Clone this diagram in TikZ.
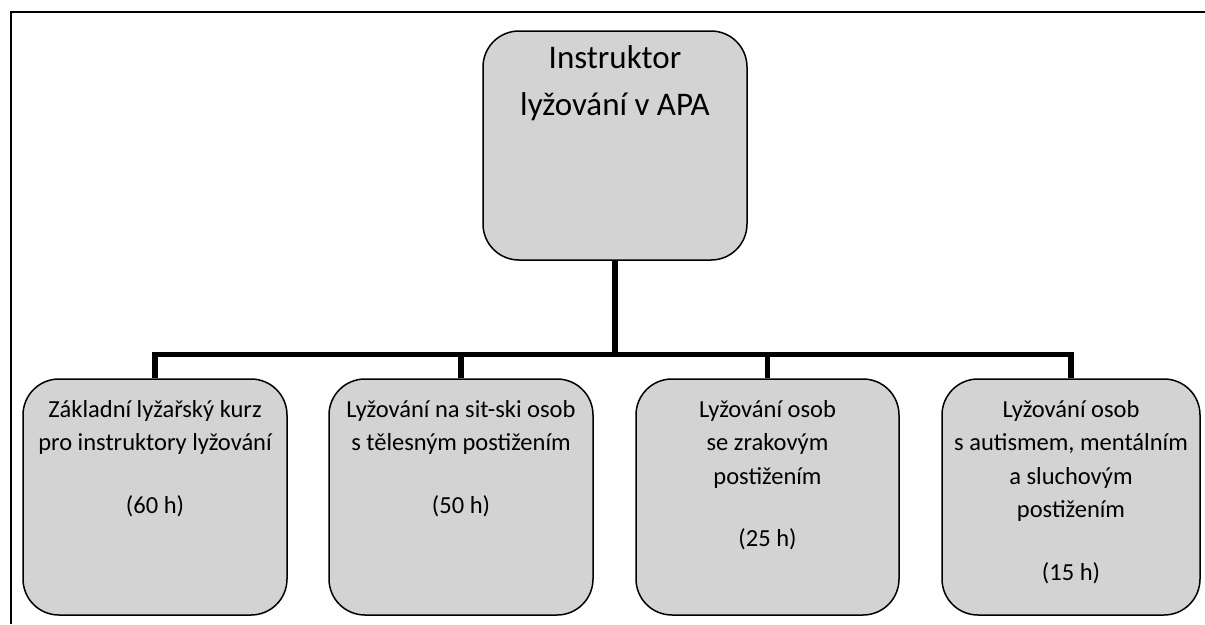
\documentclass[tikz,border=0pt]{standalone}
\usepackage{fontspec}
\setmainfont{Carlito}
\definecolor{boxgray}{RGB}{211,211,211}

\begin{document}
\begin{tikzpicture}[x=1pt, y=-1pt,
    box/.style={draw, rectangle, rounded corners=36pt, fill=boxgray, line width=1.5pt, inner sep=0pt},
    head/.style={box, font=\fontsize{33}{47}\selectfont},
    course/.style={box, font=\fontsize{24.5}{33.5}\selectfont},
    link/.style={line width=5.5pt, line join=miter}]
    \useasboundingbox (0,0) rectangle (1205,624);

    % Frame
    \draw[line width=2pt] (11,624) -- (11,10.5);
    \draw[line width=2pt] (10,11.5) -- (1205,11.5);

    % Head
    \node[head] (head) at (615,145.5)
        {\parbox[c][229pt][t]{264pt}{\centering\rule{0pt}{37pt}Instruktor\\lyžování v APA}};

    % Courses
    \node[course] (c1) at (155,497)
        {\parbox[c][236pt][t]{264pt}{\centering\rule{0pt}{38pt}Základní lyžařský kurz\\pro instruktory lyžování\\[29pt](60 h)}};
    \node[course] (c2) at (461,497)
        {\parbox[c][236pt][t]{264pt}{\centering\rule{0pt}{38pt}Lyžování na sit-ski osob\\s tělesným postižením\\[29pt](50 h)}};
    \node[course] (c3) at (767.5,497)
        {\parbox[c][236pt][t]{263pt}{\centering\rule{0pt}{38pt}Lyžování osob\\se zrakovým\\postižením\\[29pt](25 h)}};
    \node[course] (c4) at (1071,497)
        {\parbox[c][236pt][t]{258pt}{\centering\rule{0pt}{38pt}Lyžování osob\\s autismem, mentálním\\a sluchovým\\postižením\\[29pt](15 h)}};

    % Connectors
    \coordinate (bus) at (615,354.5);
    \draw[link] (head.south) -- (bus);
    \draw[link] (c1.north) |- (c4.north |- bus) -- (c4.north);
    \draw[link] (c2.north) -- (c2.north |- bus);
    \draw[link] (c3.north) -- (c3.north |- bus);
\end{tikzpicture}
\end{document}
